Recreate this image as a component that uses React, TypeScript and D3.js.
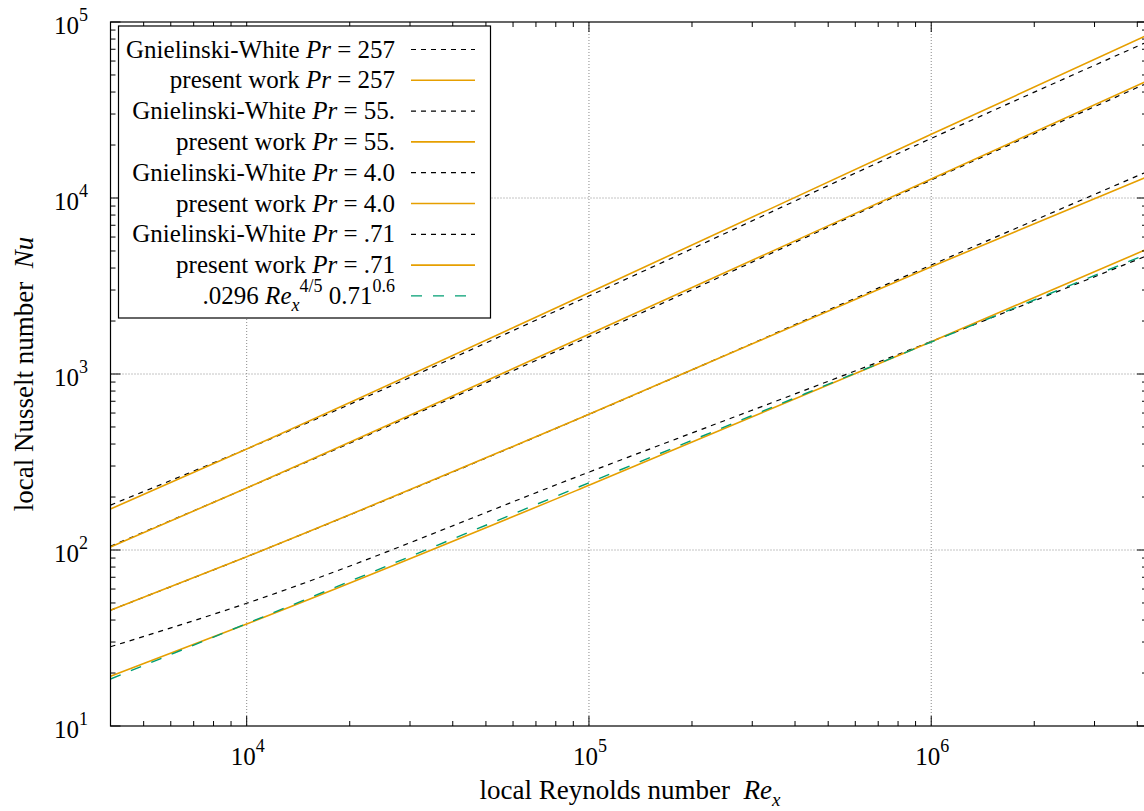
import React from "react";
import * as d3 from "d3";

// Reynolds numbers at which values were read
const reX = [4000, 1e4, 1e5, 1e6, 4.27e6];
// Nusselt numbers
const gw257 = [180, 375, 2773, 21800, 77000];
const pw257 = [171, 375, 2897, 23000, 84000];
const gw55 = [105, 225, 1630, 12650, 44900];
const pw55 = [104, 225, 1680, 12830, 46200];
const gw4 = [45.5, 91.6, 590, 4160, 14100];
const pw4 = [45.4, 91.6, 590, 4070, 13200];
const gw071 = [28.2, 49.8, 277, 1530, 4700];
const pw071 = [19.2, 38, 233, 1526, 5120];
const corr071 = [18.5, 38.2, 241, 1520, 4800];

const prLabels = ["257", "257", "55.", "55.", "4.0", "4.0", ".71", ".71"];
const xMajor = [1e4, 1e5, 1e6];
const yMajor = [10, 100, 1000, 10000, 100000];

const W = 1144, H = 811;
const L = 110.5, R = 1147, T = 22, B = 726;
const ORANGE = "#e69f00", GREEN = "#009e73";

type S = { name: string; vals: number[]; kind: "gw" | "pw" | "corr"; pr?: string };
const series: S[] = [
  { name: "gw", vals: gw257, kind: "gw", pr: prLabels[0] },
  { name: "pw", vals: pw257, kind: "pw", pr: prLabels[1] },
  { name: "gw", vals: gw55, kind: "gw", pr: prLabels[2] },
  { name: "pw", vals: pw55, kind: "pw", pr: prLabels[3] },
  { name: "gw", vals: gw4, kind: "gw", pr: prLabels[4] },
  { name: "pw", vals: pw4, kind: "pw", pr: prLabels[5] },
  { name: "gw", vals: gw071, kind: "gw", pr: prLabels[6] },
  { name: "pw", vals: pw071, kind: "pw", pr: prLabels[7] },
  { name: "corr", vals: corr071, kind: "corr" },
];

function style(kind: string) {
  if (kind === "gw") return { stroke: "#000", strokeWidth: 1.2, strokeDasharray: "5,5" };
  if (kind === "pw") return { stroke: ORANGE, strokeWidth: 1.6, strokeDasharray: undefined as any };
  return { stroke: GREEN, strokeWidth: 1.4, strokeDasharray: "11,11" };
}

export default function App() {
  const x = d3.scaleLog().domain([4000, 4.27e6]).range([L, R]);
  const y = d3.scaleLog().domain([10, 1e5]).range([B, T]);
  const line = d3
    .line<[number, number]>()
    .x((d) => x(d[0]))
    .y((d) => y(d[1]))
    .curve(d3.curveMonotoneX);

  const xMinor: number[] = [];
  for (let e = 3; e <= 6; e++)
    for (let m = 2; m <= 9; m++) {
      const v = m * Math.pow(10, e);
      if (v >= 4000 && v <= 4.27e6) xMinor.push(v);
    }
  const yMinor: number[] = [];
  for (let e = 1; e <= 4; e++) for (let m = 2; m <= 9; m++) yMinor.push(m * Math.pow(10, e));

  const font = "'Liberation Serif', 'Times New Roman', serif";
  const fs = 25;
  const legX = 118.5, legY = 26, legW = 372, legH = 292;
  const rowY = (i: number) => 49.5 + i * 30.8;

  return (
    <svg width={W} height={H} style={{ position: "absolute", left: 0, top: 0, background: "#fff" }} fontFamily={font}>
      <defs>
        <clipPath id="pc">
          <rect x={L} y={T} width={R - L} height={B - T} />
        </clipPath>
      </defs>
      <rect x={0} y={0} width={W} height={H} fill="#fff" />
      {/* grid */}
      <g stroke="#888" strokeWidth={1} strokeDasharray="1,2">
        {xMajor.map((v) => (
          <line key={"gx" + v} x1={x(v)} x2={x(v)} y1={T} y2={B} />
        ))}
        {yMajor.slice(1, 4).map((v) => (
          <line key={"gy" + v} x1={L} x2={R} y1={y(v)} y2={y(v)} />
        ))}
      </g>
      {/* series */}
      <g clipPath="url(#pc)" fill="none">
        {series.map((s, i) => {
          const st = style(s.kind);
          const pts = reX.map((r, j) => [r, s.vals[j]] as [number, number]);
          return (
            <path
              key={i}
              d={line(pts) || ""}
              stroke={st.stroke}
              strokeWidth={st.strokeWidth}
              strokeDasharray={st.strokeDasharray}
            />
          );
        })}
      </g>
      {/* ticks */}
      <g stroke="#000" strokeWidth={1}>
        {xMajor.map((v) => (
          <g key={"xt" + v}>
            <line x1={x(v)} x2={x(v)} y1={B} y2={B - 10} />
            <line x1={x(v)} x2={x(v)} y1={T} y2={T + 10} />
          </g>
        ))}
        {xMinor.map((v) => (
          <g key={"xm" + v}>
            <line x1={x(v)} x2={x(v)} y1={B} y2={B - 5} />
            <line x1={x(v)} x2={x(v)} y1={T} y2={T + 5} />
          </g>
        ))}
        {yMajor.map((v) => (
          <g key={"yt" + v}>
            <line x1={L} x2={L + 10} y1={y(v)} y2={y(v)} />
            <line x1={R} x2={R - 10} y1={y(v)} y2={y(v)} />
          </g>
        ))}
        {yMinor.map((v) => (
          <g key={"ym" + v}>
            <line x1={L} x2={L + 5} y1={y(v)} y2={y(v)} />
            <line x1={R} x2={R - 5} y1={y(v)} y2={y(v)} />
          </g>
        ))}
      </g>
      <rect x={L} y={T} width={R - L} height={B - T} fill="none" stroke="#000" strokeWidth={1.2} />
      {/* tick labels */}
      <g fontSize={fs} fill="#000">
        {yMajor.map((v) => (
          <text key={"yl" + v} x={88} y={y(v) + 12} textAnchor="end">
            10<tspan fontSize={18} dy={-13}>{Math.round(Math.log10(v))}</tspan>
          </text>
        ))}
        {xMajor.map((v) => (
          <text key={"xl" + v} x={x(v) + 1} y={765} textAnchor="middle">
            10<tspan fontSize={18} dy={-13}>{Math.round(Math.log10(v))}</tspan>
          </text>
        ))}
      </g>
      {/* axis titles */}
      <text x={630} y={799} fontSize={27} textAnchor="middle" style={{ whiteSpace: "pre" }}>
        {"local Reynolds number  "}
        <tspan fontStyle="italic">Re</tspan>
        <tspan fontStyle="italic" fontSize={19} dy={7}>x</tspan>
      </text>
      <text
        transform={`translate(33,${(T + B) / 2}) rotate(-90)`}
        fontSize={27}
        textAnchor="middle"
        style={{ whiteSpace: "pre" }}
      >
        {"local Nusselt number  "}
        <tspan fontStyle="italic">Nu</tspan>
      </text>
      {/* legend */}
      <rect x={legX} y={legY} width={legW} height={legH} fill="#fff" stroke="#000" strokeWidth={1.2} />
      <g fontSize={fs}>
        {series.map((s, i) => {
          const cy = rowY(i);
          const st = style(s.kind);
          return (
            <g key={"lg" + i}>
              {s.kind === "corr" ? (
                <text x={395} y={cy + 8} textAnchor="end">
                  {".0296 "}
                  <tspan fontStyle="italic">Re</tspan>
                  <tspan fontStyle="italic" fontSize={18} dy={7}>x</tspan>
                  <tspan fontSize={18} dy={-19}>4/5</tspan>
                  <tspan dy={12}>{" 0.71"}</tspan>
                  <tspan fontSize={18} dy={-12}>0.6</tspan>
                </text>
              ) : (
                <text x={395} y={cy + 8} textAnchor="end" style={{ whiteSpace: "pre" }}>
                  {s.kind === "gw" ? "Gnielinski-White " : "present work "}
                  <tspan fontStyle="italic">Pr</tspan>
                  {" = " + s.pr}
                </text>
              )}
              <line
                x1={411}
                x2={s.kind === "corr" ? 466 : 475}
                y1={cy}
                y2={cy}
                stroke={st.stroke}
                strokeWidth={st.strokeWidth}
                strokeDasharray={st.strokeDasharray}
              />
            </g>
          );
        })}
      </g>
    </svg>
  );
}
